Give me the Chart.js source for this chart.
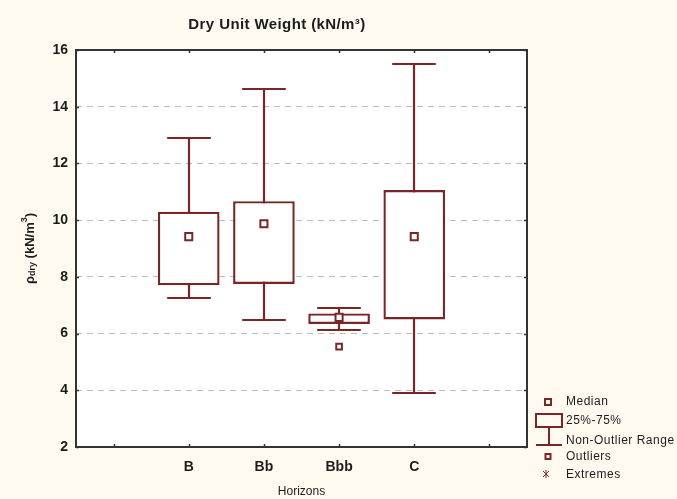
<!DOCTYPE html>
<html>
<head>
<meta charset="utf-8">
<script src="https://cdn.jsdelivr.net/npm/chart.js@4"></script>
<style>
  body { margin: 0; background: #fffaf0; }
  #wrap { width: 677px; height: 499px; position: relative; }
</style>
</head>
<body>
<div id="wrap"><canvas id="dryWeight"></canvas></div>
<script>
// horizons along the x axis (empty slots keep the outer tick positions)
var horizons = ['', 'B', 'Bb', 'Bbb', 'C', ''];

// box statistics per horizon
var q1 = [null, 7.70, 7.75, 6.34, 6.50, null];
var q3 = [null, 10.30, 10.67, 6.71, 11.06, null];
var medians = [null, 9.42, 9.87, 6.57, 9.42, null];
var whiskerLow = [null, 7.26, 6.48, 6.13, 3.89, null];
var whiskerHigh = [null, 12.91, 14.62, 6.91, 15.50, null];
var outliers = [null, null, null, 5.54, null, null];

var yTicks = [2, 4, 6, 8, 10, 12, 14, 16];

var boxColor = '#7a2626';
var textColor = '#1c1c1c';
var fontFamily = '"Liberation Sans", Arial, sans-serif';

var boxes = horizons.map(function(h, i) {
    return q1[i] == null ? null : [q1[i], q3[i]];
});

// page colours: cream margin, white plot area
var backdrop = {
    id: 'backdrop',
    beforeDraw: function(chart) {
        var ctx = chart.ctx, a = chart.chartArea;
        ctx.save();
        ctx.fillStyle = '#fffaf0';
        ctx.fillRect(0, 0, chart.width, chart.height);
        ctx.fillStyle = '#ffffff';
        ctx.fillRect(a.left, a.top, a.right - a.left, a.bottom - a.top);
        ctx.restore();
    }
};

// whisker stems and caps, drawn under the boxes
var whiskers = {
    id: 'whiskers',
    beforeDatasetsDraw: function(chart) {
        var ctx = chart.ctx, x = chart.scales.x, y = chart.scales.y;
        var step = x.getPixelForValue(1) - x.getPixelForValue(0);
        var half = step * 0.29;
        ctx.save();
        ctx.strokeStyle = boxColor;
        ctx.lineWidth = 2.2;
        for (var i = 0; i < horizons.length; i++) {
            if (whiskerLow[i] == null) continue;
            var cx = Math.round(x.getPixelForValue(i));
            var lo = Math.round(y.getPixelForValue(whiskerLow[i]));
            var hi = Math.round(y.getPixelForValue(whiskerHigh[i]));
            ctx.beginPath();
            ctx.moveTo(cx, lo); ctx.lineTo(cx, hi);
            ctx.moveTo(cx - half, lo); ctx.lineTo(cx + half, lo);
            ctx.moveTo(cx - half, hi); ctx.lineTo(cx + half, hi);
            ctx.stroke();
        }
        ctx.restore();
    }
};

// frame, inner tick marks, title, y title and legend
var decorations = {
    id: 'decorations',
    afterDraw: function(chart) {
        var ctx = chart.ctx, a = chart.chartArea;
        var x = chart.scales.x, y = chart.scales.y;
        ctx.save();

        ctx.strokeStyle = '#333333';
        ctx.lineWidth = 2;
        ctx.strokeRect(a.left, a.top, a.right - a.left, a.bottom - a.top);

        ctx.lineWidth = 1.5;
        ctx.beginPath();
        for (var i = 0; i < horizons.length; i++) {
            var px = Math.round(x.getPixelForValue(i)) + 0.5;
            ctx.moveTo(px, a.top); ctx.lineTo(px, a.top + 3);
            ctx.moveTo(px, a.bottom); ctx.lineTo(px, a.bottom - 3);
        }
        yTicks.forEach(function(v) {
            var py = Math.round(y.getPixelForValue(v)) + 0.5;
            ctx.moveTo(a.left, py); ctx.lineTo(a.left + 3, py);
            ctx.moveTo(a.right, py); ctx.lineTo(a.right - 3, py);
        });
        ctx.stroke();

        // chart title
        ctx.fillStyle = textColor;
        ctx.font = 'bold 15px ' + fontFamily;
        ctx.letterSpacing = '0.4px';
        ctx.textAlign = 'center';
        ctx.textBaseline = 'middle';
        ctx.fillText('Dry Unit Weight (kN/m³)', 277, 25);
        ctx.letterSpacing = '0px';

        // y axis title with subscript and superscript
        ctx.save();
        ctx.translate(30, (a.top + a.bottom) / 2);
        ctx.rotate(-Math.PI / 2);
        var parts = [
            { t: 'ρ', f: 'bold 13px ', dy: 0 },
            { t: 'dry', f: 'bold 9px ', dy: 3 },
            { t: ' (kN/m', f: 'bold 13px ', dy: 0 },
            { t: '3', f: 'bold 9px ', dy: -5 },
            { t: ')', f: 'bold 13px ', dy: 0 }
        ];
        var total = 0;
        parts.forEach(function(p) { ctx.font = p.f + fontFamily; p.w = ctx.measureText(p.t).width; total += p.w; });
        var cx = -total / 2;
        ctx.textAlign = 'left';
        parts.forEach(function(p) {
            ctx.font = p.f + fontFamily;
            ctx.fillText(p.t, cx, p.dy);
            cx += p.w;
        });
        ctx.restore();

        // legend
        ctx.strokeStyle = boxColor;
        ctx.fillStyle = '#ffffff';
        ctx.lineWidth = 2;
        ctx.strokeRect(545, 399, 6, 6);
        ctx.strokeRect(536, 414, 26, 13);
        ctx.beginPath();
        ctx.moveTo(549, 427); ctx.lineTo(549, 445);
        ctx.moveTo(536, 445); ctx.lineTo(562, 445);
        ctx.stroke();
        ctx.strokeRect(545.5, 454, 5, 5);
        ctx.lineWidth = 1;
        ctx.beginPath();
        ctx.moveTo(543, 471); ctx.lineTo(549, 477);
        ctx.moveTo(549, 471); ctx.lineTo(543, 477);
        ctx.moveTo(546, 470); ctx.lineTo(546, 478);
        ctx.stroke();

        ctx.fillStyle = textColor;
        ctx.font = '12px ' + fontFamily;
        ctx.letterSpacing = '0.5px';
        ctx.textAlign = 'left';
        ctx.textBaseline = 'middle';
        ctx.fillText('Median', 566, 402);
        ctx.fillText('25%-75%', 566, 421);
        ctx.fillText('Non-Outlier Range', 566, 441);
        ctx.fillText('Outliers', 566, 457);
        ctx.fillText('Extremes', 566, 475);
        ctx.letterSpacing = '0px';

        ctx.restore();
    }
};

var ctx = document.getElementById('dryWeight').getContext('2d');

var dryChart = new Chart(ctx, {
    type: 'bar',
    data: {
        labels: horizons,
        datasets: [
            {
                type: 'line',
                label: 'Median',
                data: medians,
                showLine: false,
                pointStyle: 'rect',
                pointRadius: 5,
                pointBorderWidth: 2,
                pointBorderColor: boxColor,
                pointBackgroundColor: '#ffffff',
                order: 0
            },
            {
                type: 'line',
                label: 'Outliers',
                data: outliers,
                showLine: false,
                pointStyle: 'rect',
                pointRadius: 4,
                pointBorderWidth: 2,
                pointBorderColor: boxColor,
                pointBackgroundColor: '#ffffff',
                order: 0
            },
            {
                label: '25%-75%',
                data: boxes,
                backgroundColor: '#ffffff',
                borderColor: boxColor,
                borderWidth: 2.4,
                borderSkipped: false,
                categoryPercentage: 1,
                barPercentage: 0.82,
                order: 1
            }
        ]
    },
    options: {
        responsive: true,
        maintainAspectRatio: false,
        animation: false,
        layout: { padding: { top: 50, right: 150, left: 0, bottom: 0 } },
        plugins: {
            legend: { display: false },
            title: { display: false },
            tooltip: { enabled: false }
        },
        scales: {
            x: {
                offset: true,
                grid: { display: false },
                border: { display: false },
                ticks: {
                    color: textColor,
                    font: { family: fontFamily, size: 14, weight: 'bold' },
                    padding: 4,
                    maxRotation: 0,
                    autoSkip: false
                },
                title: {
                    display: true,
                    text: 'Horizons',
                    color: textColor,
                    font: { family: fontFamily, size: 12 },
                    padding: { top: -2, bottom: 0 }
                },
                afterFit: function(s) { s.height = 52; }
            },
            y: {
                min: 2,
                max: 16,
                afterBuildTicks: function(s) {
                    s.ticks = yTicks.map(function(v) { return { value: v }; });
                },
                grid: {
                    color: '#bdbdbd',
                    lineWidth: 1,
                    drawTicks: false
                },
                border: { display: false, dash: [6, 5] },
                ticks: {
                    color: textColor,
                    font: { family: fontFamily, size: 14, weight: 'bold' },
                    padding: 8
                },
                afterFit: function(s) { s.width = 76; }
            }
        }
    },
    plugins: [backdrop, whiskers, decorations]
});
</script>
</body>
</html>
